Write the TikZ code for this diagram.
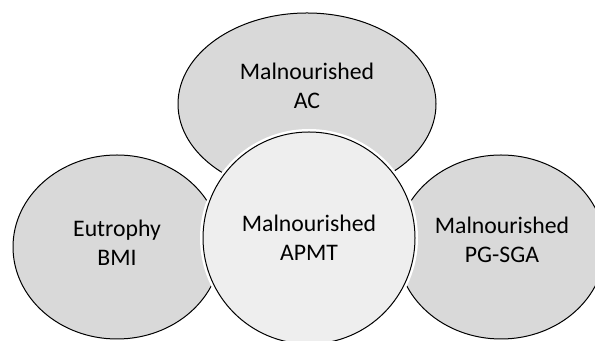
\documentclass[tikz,border=0pt]{standalone}
\usepackage{fontspec}
\setmainfont{Carlito}
\usetikzlibrary{shapes.geometric}
\definecolor{outergray}{HTML}{D9D9D9}
\definecolor{innergray}{HTML}{EEEEEE}
\begin{document}
\begin{tikzpicture}[x=0.75pt,y=0.75pt,
  blob/.style={ellipse,draw=black,line width=0.75pt,fill=outergray,inner sep=0pt,
    align=center,font=\fontsize{17.8}{21.7}\selectfont},
  core/.style={blob,fill=innergray,preaction={draw=white,line width=4.5pt}}]
\useasboundingbox (0,0) rectangle (595,341);

% Outer criteria
\node[blob,minimum width=258pt*0.75,minimum height=182pt*0.75] (ac) at (307,237) {};
\node[blob,minimum width=208pt*0.75,minimum height=184pt*0.75] (bmi) at (117,94) {};
\node[blob,minimum width=208pt*0.75,minimum height=184pt*0.75] (pgsga) at (501,94) {};

% Labels of the outer criteria
\node[font=\fontsize{17.8}{21.7}\selectfont,align=center] (acl) at (307,255) {Malnourished\\AC};
\node[font=\fontsize{17.8}{21.7}\selectfont,align=center] (bmil) at (117,98) {Eutrophy\\BMI};
\node[font=\fontsize{17.8}{21.7}\selectfont,align=center] (pgsgal) at (502,101) {Malnourished\\PG-SGA};

% Central criterion
\node[core,minimum width=212pt*0.75,minimum height=212pt*0.75] (apmt) at (309,103) {Malnourished\\APMT};

\end{tikzpicture}
\end{document}
